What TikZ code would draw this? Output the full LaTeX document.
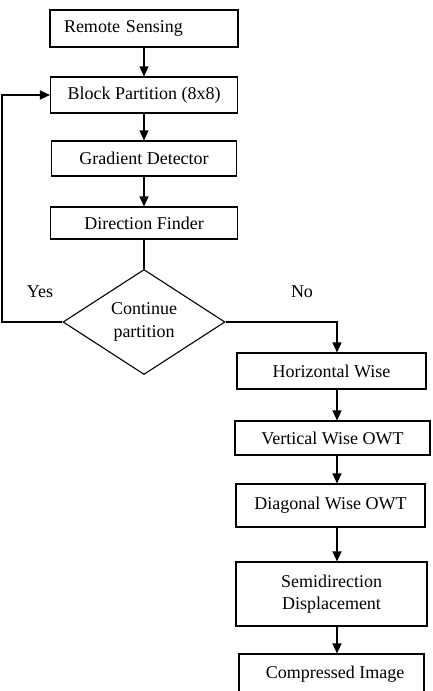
\documentclass[tikz,border=0pt]{standalone}
\usepackage{fontspec}
\setmainfont{Liberation Serif}
\usetikzlibrary{shapes.geometric,arrows.meta}
\begin{document}
\begin{tikzpicture}[x=1pt,y=-1pt,
  every node/.style={font=\fontsize{18}{22}\selectfont},
  box/.style={draw,line width=1.1pt,inner sep=0pt,align=center},
  ln/.style={line width=1.1pt},
  arr/.style={line width=1.1pt,-{Triangle[length=10pt,width=9pt]}}]
\useasboundingbox (0,0) rectangle (433,691);
\clip (0,0) rectangle (433,691);
\coordinate (L) at (144,0);
\coordinate (R) at (337,0);
\node[box,minimum width=188pt,minimum height=37pt,text width=160pt,align=left,inner xsep=14pt] (rs) at (144,28.5) {Remote Sensing};
\node[box,minimum width=187pt,minimum height=36pt] (bp) at (144,95) {Block Partition (8x8)};
\node[box,minimum width=185pt,minimum height=35pt] (gd) at (144,158.5) {Gradient Detector};
\node[box,minimum width=187pt,minimum height=32pt] (df) at (144,223) {Direction Finder};
\node[draw,diamond,line width=1.1pt,inner sep=0pt,minimum width=162pt,minimum height=105pt,align=center,font=\fontsize{18}{23}\selectfont] (cp) at (144,322) {Continue\\partition};
\node[box,minimum width=189pt,minimum height=36pt] (hw) at (331.5,371) {Horizontal Wise};
\node[box,minimum width=195pt,minimum height=34pt] (vw) at (332.5,438) {Vertical Wise OWT};
\node[box,minimum width=189pt,minimum height=43pt] (dw) at (330.5,505.5) {Diagonal Wise OWT};
\node[box,minimum width=191pt,minimum height=64pt,font=\fontsize{18}{22}\selectfont] (sd) at (331.5,594) {Semidirection\\Displacement};
\node[box,minimum width=185pt,minimum height=50pt,text depth=0pt] (ci) at (331.5,679) {};
\node (citext) at (335,674) {Compressed Image};
\node (yes) at (40,292) {Yes};
\node (no) at (302,292) {No};
\coordinate (fb) at (2,0);
\coordinate (nx) at (337,0);
\draw[arr] (rs.south -| L) -- (bp.north -| L);
\draw[arr] (bp.south -| L) -- (gd.north -| L);
\draw[arr] (gd.south -| L) -- (df.north -| L);
\draw[ln] (df.south -| L) -- (cp.north);
\draw[arr] (cp.west) -- (cp.west -| fb) -- (bp.west -| fb) -- (bp.west);
\draw[arr] (cp.east) -- (cp.east -| nx) -- (hw.north -| nx);
\draw[arr] (hw.south -| R) -- (vw.north -| R);
\draw[arr] (vw.south -| R) -- (dw.north -| R);
\draw[arr] (dw.south -| R) -- (sd.north -| R);
\draw[arr] (sd.south -| R) -- (ci.north -| R);
\end{tikzpicture}
\end{document}
